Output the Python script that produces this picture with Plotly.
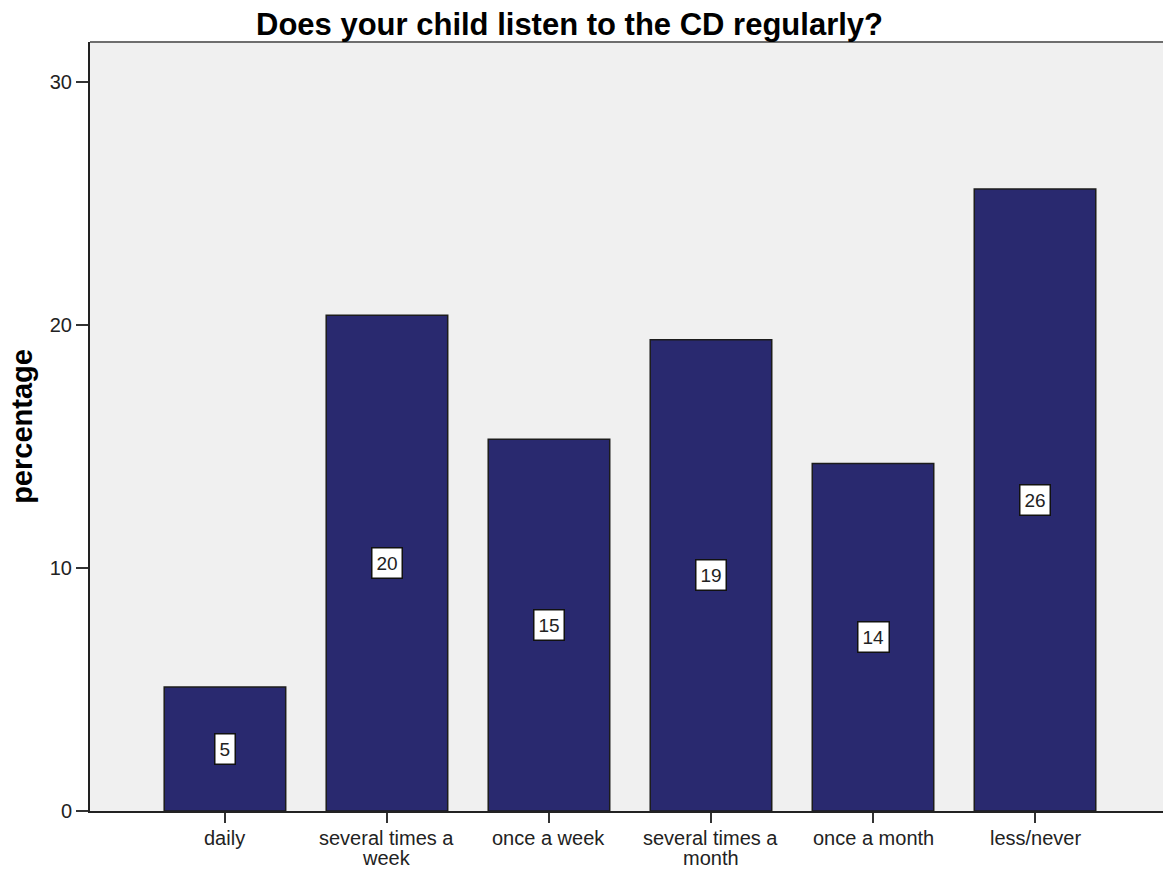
import plotly.graph_objects as go

# Survey responses: how often the child listens to the CD
categories = ["daily", "several times a<br>week", "once a week",
              "several times a<br>month", "once a month", "less/never"]
percentages = [5.1, 20.4, 15.3, 19.4, 14.3, 25.6]
y_ticks = [0, 10, 20, 30]

FONT = "Arial, Liberation Sans, sans-serif"
BAR_COLOR = "#29296f"
positions = list(range(len(categories)))

fig = go.Figure()
fig.add_trace(go.Bar(
    x=positions,
    y=percentages,
    width=0.75,
    marker=dict(color=BAR_COLOR, line=dict(color="#1c1c1c", width=1.5)),
    hoverinfo="skip",
))

# Value labels in white boxes, placed at half bar height
for i, v in enumerate(percentages):
    fig.add_annotation(
        x=i, y=v / 2, xref="x", yref="y",
        text=f"{v:.0f}", showarrow=False,
        font=dict(family=FONT, size=19, color="#222222"),
        bgcolor="white", bordercolor="#111111", borderwidth=1.5, borderpad=4,
    )

# Category labels, drawn line by line for a compact line spacing
for i, label in enumerate(categories):
    for j, line in enumerate(label.split("<br>")):
        fig.add_annotation(
            x=i, y=0, xref="x", yref="paper", yanchor="middle",
            yshift=-27 - 20 * j, text=line, showarrow=False,
            font=dict(family=FONT, size=20, color="#222222"),
        )

# Chart title
fig.add_annotation(
    x=0.447, y=1, xref="paper", yref="paper", yanchor="bottom", yshift=-2,
    text="<b>Does your child listen to the CD regularly?</b>", showarrow=False,
    font=dict(family=FONT, size=31, color="black"),
)

# Top frame line of the plot area
fig.add_shape(type="line", xref="paper", yref="paper", x0=0, x1=1, y0=1, y1=1,
              line=dict(color="#6e6e6e", width=2))

fig.update_layout(
    width=1163, height=870,
    margin=dict(l=90, r=0, t=42, b=59),
    paper_bgcolor="white",
    plot_bgcolor="#f0f0f0",
    showlegend=False,
    bargap=0.25,
    xaxis=dict(
        tickmode="array",
        tickvals=positions,
        showticklabels=False,
        range=[-0.833, 5.79],
        automargin=False,
        showgrid=False, zeroline=False,
        showline=True, linecolor="#222222", linewidth=2,
        ticks="outside", ticklen=10, tickwidth=2, tickcolor="#333333",
    ),
    yaxis=dict(
        range=[0, 31.65],
        tickvals=y_ticks,
        automargin=False,
        showgrid=False, zeroline=False,
        showline=True, linecolor="#222222", linewidth=2,
        ticks="outside", ticklen=12, tickwidth=2, tickcolor="#333333",
        tickfont=dict(family=FONT, size=20, color="#222222"),
        title=dict(text="<b>percentage</b>", standoff=9,
                   font=dict(family=FONT, size=29, color="black")),
    ),
)

fig.write_html("out.html")
